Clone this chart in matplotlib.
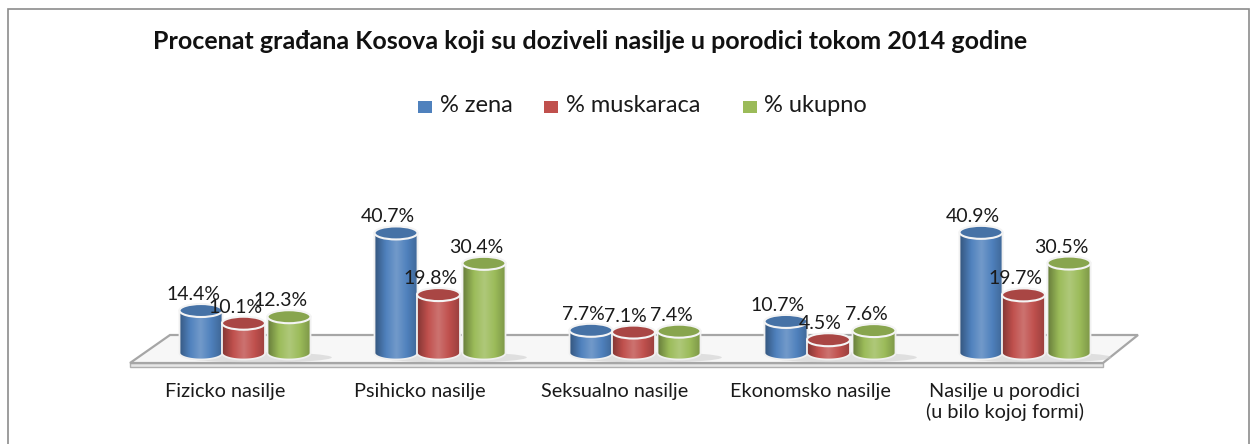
import numpy as np
import matplotlib
matplotlib.use("Agg")
import matplotlib.pyplot as plt
from matplotlib.patches import Ellipse, PathPatch, Polygon, Rectangle
from matplotlib.path import Path
from matplotlib.colors import LinearSegmentedColormap, to_rgb

plt.rcParams['font.family'] = ['Lato', 'DejaVu Sans']

title = "Procenat građana Kosova koji su doziveli nasilje u porodici tokom 2014 godine"
categories = ["Fizicko nasilje", "Psihicko nasilje", "Seksualno nasilje",
              "Ekonomsko nasilje", "Nasilje u porodici\n(u bilo kojoj formi)"]
series_names = ["% zena", "% muskaraca", "% ukupno"]
zena = [14.4, 40.7, 7.7, 10.7, 40.9]
muskaraca = [10.1, 19.8, 7.1, 4.5, 19.7]
ukupno = [12.3, 30.4, 7.4, 7.6, 30.5]
series = [zena, muskaraca, ukupno]
colors = ["#4F81BD", "#C0504D", "#9BBB59"]

W, H = 1252, 444
fig = plt.figure(figsize=(W / 100, H / 100), dpi=100)
ax = fig.add_axes([0, 0, 1, 1])
# scale: 195 px per category, 2.95 px per percent
PXX, PXY = 195.0, 2.95
X_ORIGIN, Y_ORIGIN = 245.0, 353.0
ax.set_xlim(-X_ORIGIN / PXX, (W - X_ORIGIN) / PXX)
ax.set_ylim((Y_ORIGIN - H) / PXY, Y_ORIGIN / PXY)
ax.axis("off")

def px(xp, yp):
    return ((xp - X_ORIGIN) / PXX, (Y_ORIGIN - yp) / PXY)

# outer border
fig.patches.append(Rectangle((8 / W, -0.05), (W - 11) / W, 1 - 9 / H + 0.05,
                             transform=fig.transFigure, fill=False,
                             edgecolor="#8c8c8c", lw=1.2))

# floor
floor_band = Polygon([px(130, 363), px(1103, 363), px(1103, 367), px(130, 367)],
                     closed=True, facecolor="#e6e6e6", edgecolor="#b0b0b0", lw=1, zorder=1)
ax.add_patch(floor_band)
floor = Polygon([px(170, 335), px(1138, 335), px(1103, 363), px(130, 363)],
                closed=True, facecolor="#f7f7f7", edgecolor="#a6a6a6", lw=1.6, zorder=1.1)
ax.add_patch(floor)

bw = 43 / PXX
offsets = [-44 / PXX, -1.5 / PXX, 44 / PXX]
eh = 13 / PXY

def shade_cmap(c):
    r = np.array(to_rgb(c))
    dark = r * 0.68
    light = np.clip(r + (1 - r) * 0.2, 0, 1)
    return LinearSegmentedColormap.from_list("s", [dark, r, light, r, r * 0.8])

grad = np.linspace(0, 1, 64).reshape(1, -1)

# shadows
for i in range(len(categories)):
    sh = Ellipse((i + 0.07, -1.5), 0.75, 3.5, facecolor="#c8c8c8", alpha=0.5,
                 edgecolor="none", zorder=1.5)
    ax.add_patch(sh)

for si, (vals, c) in enumerate(zip(series, colors)):
    cmap = shade_cmap(c)
    for i, v in enumerate(vals):
        xc = i + offsets[si]
        z = 2 + si
        l, r = xc - bw / 2, xc + bw / 2
        t = np.linspace(np.pi, 2 * np.pi, 40)
        arc = np.column_stack([xc + bw / 2 * np.cos(t), eh / 2 * np.sin(t)])
        verts = np.vstack([[l, v], [l, 0], arc, [r, 0], [r, v], [l, v]])
        codes = [Path.MOVETO] + [Path.LINETO] * (len(verts) - 2) + [Path.CLOSEPOLY]
        path = Path(verts, codes)
        body = PathPatch(path, facecolor=c, edgecolor="none", zorder=z)
        ax.add_patch(body)
        im = ax.imshow(grad, cmap=cmap, extent=[l, r, -eh, v], aspect="auto",
                       zorder=z + 0.01, interpolation="bicubic")
        im.set_clip_path(body)
        outline = PathPatch(path, facecolor="none", edgecolor="#f0f0f0", lw=1.3,
                            zorder=z + 0.02)
        ax.add_patch(outline)
        top_c = np.array(to_rgb(c)) * 0.88
        top = Ellipse((xc, v), bw, eh, facecolor=top_c, edgecolor="#f4f4f4",
                      lw=1.5, zorder=z + 0.03)
        ax.add_patch(top)
        ax.text(xc - 8 / PXX, v + 16 / PXY, f"{v:.1f}%", ha="center", va="center",
                fontsize=14, color="#1a1a1a", zorder=10)

for i, cat in enumerate(categories):
    for k, line in enumerate(cat.split("\n")):
        ax.text(i - 20 / PXX, (Y_ORIGIN - 391 - 21 * k) / PXY, line, ha="center",
                va="center", fontsize=14.3, color="#1a1a1a")

fig.text(590 / W, 1 - 41 / H, title, ha="center", va="center", fontsize=18,
         fontweight="bold", color="#111111")

# legend
leg_items = [(418, 440, series_names[0]), (544, 566, series_names[1]),
             (743, 764, series_names[2])]
for (xs, xt, name), c in zip(leg_items, colors):
    fig.patches.append(Rectangle((xs / W, 1 - 113 / H), 14 / W, 12 / H,
                                 transform=fig.transFigure, facecolor=c,
                                 edgecolor="none"))
    fig.text(xt / W, 1 - 106 / H, name, ha="left", va="center",
             fontsize=17, color="#1a1a1a")

fig.savefig("out.png", dpi=100, facecolor="white")
